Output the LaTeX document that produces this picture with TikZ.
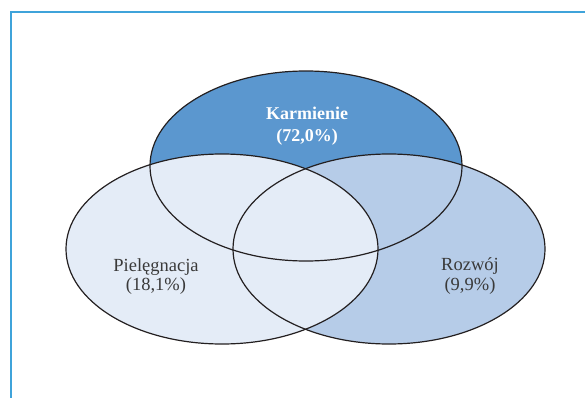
\documentclass[tikz,border=0pt]{standalone}
\usepackage{fontspec}
\setmainfont{Liberation Serif}
\usetikzlibrary{shapes.geometric}

\definecolor{framecol}{HTML}{3FA3DA}
\definecolor{karcol}{HTML}{5B97CF}
\definecolor{pielcol}{HTML}{E4ECF7}
\definecolor{rozcol}{HTML}{B6CCE8}
\definecolor{edgecol}{HTML}{231F20}
\definecolor{txtcol}{HTML}{3A3A3A}

\begin{document}
\begin{tikzpicture}[
  x=1pt,y=-1pt,
  set/.style={ellipse,inner sep=0pt,minimum width=312pt,minimum height=190pt},
  setlabel/.style={align=center,text=txtcol,font=\fontsize{18.5}{19.5}\selectfont}
]
  \useasboundingbox (0,0) rectangle (585,398);
  \draw[framecol,line width=1.6pt] (11,398) -- (11,12) -- (585,12);

  % sets: filled in drawing order, outlines last
  \node[set,fill=karcol] (kar) at (306,166) {};
  \node[set,fill=rozcol] (roz) at (389,249) {};
  \node[set,fill=pielcol] (piel) at (222,249) {};
  \foreach \s in {kar,roz,piel}
    \draw[edgecol,line width=1.2pt] (\s.center) ellipse [x radius=156,y radius=95];

  % labels
  \node[setlabel,text=white,font=\bfseries\fontsize{18}{21.5}\selectfont] (karlab) at (307,126) {Karmienie\\(72,0\%)};
  \node[setlabel] (piellab) at (156,276.5) {Pielęgnacja\\(18,1\%)};
  \node[setlabel] (rozlab) at (470,276) {Rozwój\\(9,9\%)};
\end{tikzpicture}
\end{document}
